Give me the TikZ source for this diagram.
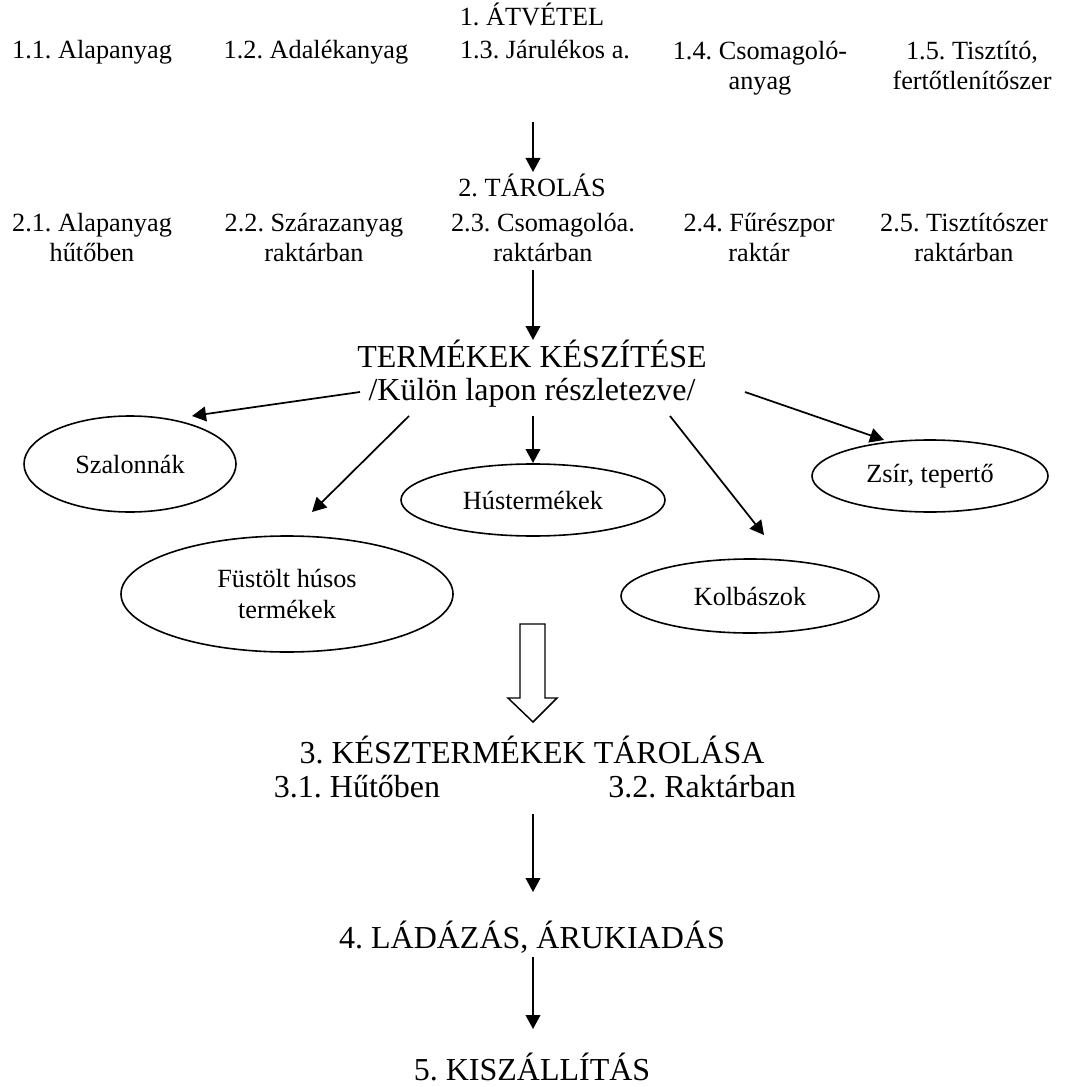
\documentclass[tikz,border=0pt]{standalone}
\usepackage{fontspec}
\setmainfont{Liberation Serif}
\frenchspacing
\usetikzlibrary{arrows.meta,shapes.geometric}

\tikzset{every picture/.style={line width=0.75pt}}
\tikzset{
  kis/.style={font=\fontsize{19.7}{23}\selectfont, inner sep=0pt, align=center, anchor=base},
  nagy/.style={font=\fontsize{24}{29}\selectfont, inner sep=0pt, align=center, anchor=base},
  termek/.style={draw, ellipse, line width=1.2pt, inner sep=0pt, align=center, font=\fontsize{19.7}{23.5}\selectfont},
  nyil/.style={line width=1.3pt, -{Triangle[length=10.5pt,width=11pt]}},
}

\begin{document}
\begin{tikzpicture}[x=0.75pt,y=0.75pt,yscale=-1,xscale=1]
\useasboundingbox (0,0) rectangle (1066,1087);

% Text Node
\node[kis] (atvetel) at (532,26) {1. ÁTVÉTEL};
\node[kis] (t11) at (92,59) {1.1. Alapanyag};
\node[kis] (t12) at (316,59) {1.2. Adalékanyag};
\node[kis] (t13) at (545,59) {1.3. Járulékos a.};
\node[kis] (t14) at (760,90) {1.4. Csomagoló-\\anyag};
\node[kis] (t15) at (972,90) {1.5. Tisztító,\\fertőtlenítőszer};

% Text Node
\node[kis] (tarolas) at (532,197) {2. TÁROLÁS};
\node[kis] (t21) at (92,262) {2.1. Alapanyag\\hűtőben};
\node[kis] (t22) at (314,262) {2.2. Szárazanyag\\raktárban};
\node[kis] (t23) at (543,262) {2.3. Csomagolóa.\\raktárban};
\node[kis] (t24) at (759,262) {2.4. Fűrészpor\\raktár};
\node[kis] (t25) at (964,262) {2.5. Tisztítószer\\raktárban};

% Text Node
\node[nagy] (keszites) at (532,367) {TERMÉKEK KÉSZÍTÉSE};
\node[nagy] (kulon) at (532,400) {/Külön lapon részletezve/};

%Shape: Ellipse
\node[termek, minimum width=159pt, minimum height=72pt] (szalonna) at (130,464) {Szalonnák};
\node[termek, minimum width=249pt, minimum height=87pt] (fustolt) at (287,594) {Füstölt húsos\\termékek};
\node[termek, minimum width=198pt, minimum height=54pt] (hus) at (533,500) {Hústermékek};
\node[termek, minimum width=177pt, minimum height=54pt] (zsir) at (930,476) {Zsír, tepertő};
\node[termek, minimum width=193.5pt, minimum height=55.5pt] (kolbasz) at (750,596) {Kolbászok};

% Text Node
\node[nagy] (kesztarolas) at (532,763) {3. KÉSZTERMÉKEK TÁROLÁSA};
\node[nagy] (t31) at (357,797) {3.1. Hűtőben};
\node[nagy] (t32) at (702,797) {3.2. Raktárban};
\node[nagy] (ladazas) at (532,948) {4. LÁDÁZÁS, ÁRUKIADÁS};
\node[nagy] (kiszallitas) at (532,1080) {5. KISZÁLLÍTÁS};

% arrow ends
\coordinate (a1s) at (533,122);  \coordinate (a1e) at (533,172);
\coordinate (a2s) at (533,270);  \coordinate (a2e) at (533,340);
\coordinate (b1s) at (360,392);  \coordinate (b1e) at (192,416);
\coordinate (b2s) at (409,416);  \coordinate (b2e) at (312,512);
\coordinate (b3s) at (533,416);  \coordinate (b3e) at (533,463);
\coordinate (b4s) at (670,416);  \coordinate (b4e) at (764,535);
\coordinate (b5s) at (745,392);  \coordinate (b5e) at (884,440);
\coordinate (a3s) at (533,814);  \coordinate (a3e) at (533,892);
\coordinate (a4s) at (533,957);  \coordinate (a4e) at (533,1029);

%Straight Lines
\draw[nyil] (a1s) -- (a1e);
\draw[nyil] (a2s) -- (a2e);
\draw[nyil] (b1s) -- (b1e);
\draw[nyil] (b2s) -- (b2e);
\draw[nyil] (b3s) -- (b3e);
\draw[nyil] (b4s) -- (b4e);
\draw[nyil] (b5s) -- (b5e);
\draw[nyil] (a3s) -- (a3e);
\draw[nyil] (a4s) -- (a4e);

%Shape: Down Arrow
\draw[line width=1.1pt, line join=miter] (520,624) -- (545,624) -- (545,698) -- (557,698) -- (533,722) -- (508,698) -- (520,698) -- cycle;

\end{tikzpicture}
\end{document}
